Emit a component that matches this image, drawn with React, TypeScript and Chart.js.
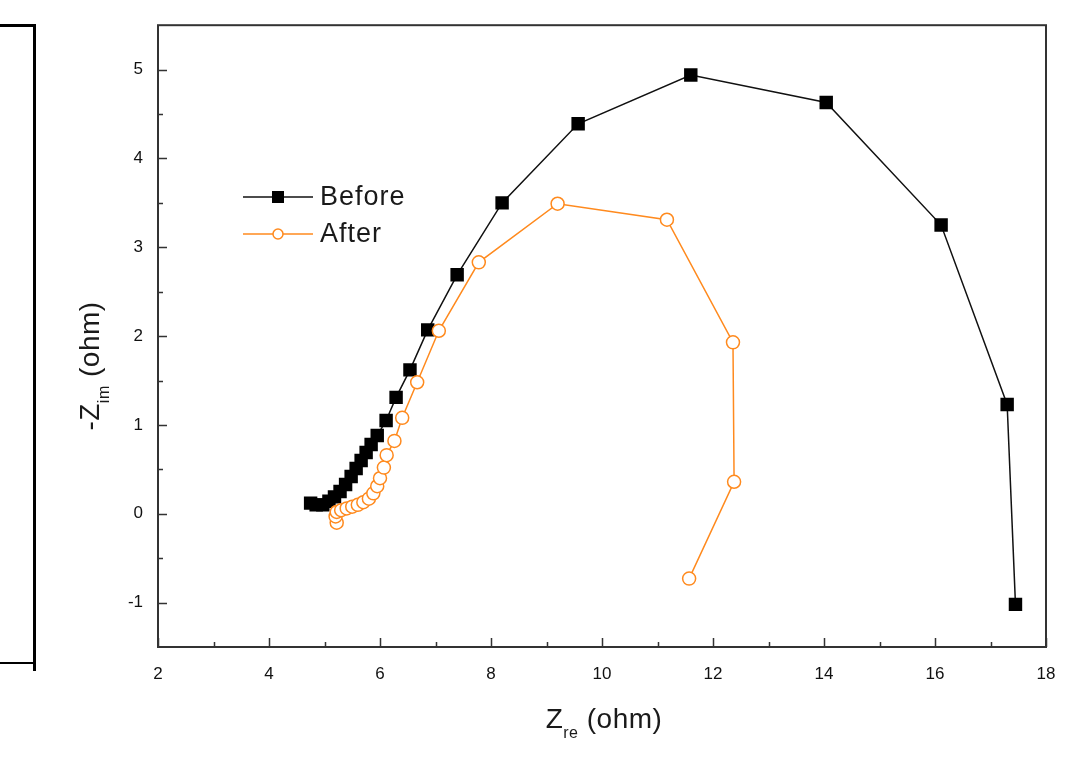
import React, { useEffect, useRef } from 'react';
import { Chart, registerables } from 'chart.js';

Chart.register(...registerables);

// Before (black squares), high frequency -> low frequency
const beforeX = [4.75, 4.85, 4.97, 5.08, 5.18, 5.28, 5.38, 5.48, 5.57, 5.66, 5.75, 5.84, 5.95, 6.11, 6.29, 6.54, 6.86, 7.39, 8.2, 9.57, 11.6, 14.04, 16.11, 17.3, 17.45];
const beforeY = [0.12, 0.1, 0.1, 0.14, 0.19, 0.25, 0.33, 0.42, 0.51, 0.6, 0.69, 0.78, 0.88, 1.05, 1.31, 1.62, 2.07, 2.69, 3.5, 4.39, 4.94, 4.63, 3.25, 1.23, -1.02];

// After (orange open circles)
const afterX = [5.22, 5.2, 5.22, 5.3, 5.4, 5.5, 5.6, 5.7, 5.8, 5.88, 5.95, 6.0, 6.07, 6.12, 6.26, 6.4, 6.67, 7.06, 7.78, 9.2, 11.17, 12.36, 12.38, 11.57];
const afterY = [-0.1, -0.03, 0.02, 0.04, 0.06, 0.08, 0.1, 0.13, 0.17, 0.23, 0.31, 0.4, 0.52, 0.66, 0.82, 1.08, 1.48, 2.06, 2.83, 3.49, 3.31, 1.93, 0.36, -0.73];

const xTicks = [2, 4, 6, 8, 10, 12, 14, 16, 18];
const xMinorTicks = [3, 5, 7, 9, 11, 13, 15, 17];
const yTicks = [-1, 0, 1, 2, 3, 4, 5];
const yMinorTicks = [-0.5, 0.5, 1.5, 2.5, 3.5, 4.5];

const seriesNames = ['Before', 'After'];
const ORANGE = '#FF8A1E';
const FONT = '"Liberation Sans", Arial, sans-serif';

export default function App() {
  const ref = useRef<HTMLCanvasElement>(null);

  useEffect(() => {
    if (!ref.current) return;

    const framePlugin = {
      id: 'framePlugin',
      afterDraw(chart: any) {
        const { ctx, chartArea } = chart;
        const { left, top, right, bottom } = chartArea;
        const xs = chart.scales.x;
        const ys = chart.scales.y;
        ctx.save();
        ctx.strokeStyle = '#333';
        ctx.lineWidth = 2;
        ctx.strokeRect(left, top, right - left, bottom - top);
        ctx.lineWidth = 1.5;
        ctx.beginPath();
        xTicks.forEach((v) => {
          const px = Math.round(xs.getPixelForValue(v)) + 0.5;
          ctx.moveTo(px, bottom);
          ctx.lineTo(px, bottom - 9);
        });
        xMinorTicks.forEach((v) => {
          const px = Math.round(xs.getPixelForValue(v)) + 0.5;
          ctx.moveTo(px, bottom);
          ctx.lineTo(px, bottom - 5);
        });
        yTicks.forEach((v) => {
          const py = Math.round(ys.getPixelForValue(v)) + 0.5;
          ctx.moveTo(left, py);
          ctx.lineTo(left + 9, py);
        });
        yMinorTicks.forEach((v) => {
          const py = Math.round(ys.getPixelForValue(v)) + 0.5;
          ctx.moveTo(left, py);
          ctx.lineTo(left + 5, py);
        });
        ctx.stroke();

        // legend
        const legendItems = [
          { y: 197, color: '#111', style: 'rect' },
          { y: 234, color: ORANGE, style: 'circle' },
        ];
        legendItems.forEach((it, i) => {
          ctx.strokeStyle = it.color;
          ctx.lineWidth = 1.5;
          ctx.beginPath();
          ctx.moveTo(243, it.y);
          ctx.lineTo(313, it.y);
          ctx.stroke();
          if (it.style === 'rect') {
            ctx.fillStyle = '#000';
            ctx.fillRect(278 - 6, it.y - 6, 12, 12);
          } else {
            ctx.fillStyle = '#fff';
            ctx.beginPath();
            ctx.arc(278, it.y, 5, 0, Math.PI * 2);
            ctx.fill();
            ctx.stroke();
          }
          ctx.fillStyle = '#1a1a1a';
          ctx.font = `27px ${FONT}`;
          (ctx as any).letterSpacing = '1px';
          ctx.textAlign = 'left';
          ctx.textBaseline = 'middle';
          ctx.fillText(seriesNames[i], 320, it.y + 1);
          (ctx as any).letterSpacing = '0px';
        });

        // axis titles with subscripts
        const drawTitle = (main: string, sub: string, rest: string) => {
          const big = `28px ${FONT}`;
          const small = `16px ${FONT}`;
          (ctx as any).letterSpacing = '0.5px';
          ctx.font = big;
          const w1 = ctx.measureText(main).width;
          const w3 = ctx.measureText(rest).width;
          ctx.font = small;
          const w2 = ctx.measureText(sub).width;
          const total = w1 + w2 + w3;
          let x = -total / 2;
          ctx.textAlign = 'left';
          ctx.textBaseline = 'alphabetic';
          ctx.fillStyle = '#1a1a1a';
          ctx.font = big;
          ctx.fillText(main, x, 0);
          x += w1;
          ctx.font = small;
          ctx.fillText(sub, x, 10);
          x += w2;
          ctx.font = big;
          ctx.fillText(rest, x, 0);
          (ctx as any).letterSpacing = '0px';
        };
        ctx.save();
        ctx.translate(604, 728);
        drawTitle('Z', 're', ' (ohm)');
        ctx.restore();
        ctx.save();
        ctx.translate(99, 366);
        ctx.rotate(-Math.PI / 2);
        drawTitle('-Z', 'im', ' (ohm)');
        ctx.restore();
        ctx.restore();
      },
    };

    const chart = new Chart(ref.current, {
      type: 'scatter',
      data: {
        datasets: [
          {
            label: seriesNames[0],
            data: beforeX.map((x, i) => ({ x, y: beforeY[i] })),
            showLine: true,
            borderColor: '#111',
            borderWidth: 1.5,
            pointStyle: 'rect',
            pointRadius: 9.5,
            pointBackgroundColor: '#000',
            pointBorderColor: '#000',
            pointBorderWidth: 0,
            order: 2,
          },
          {
            label: seriesNames[1],
            data: afterX.map((x, i) => ({ x, y: afterY[i] })),
            showLine: true,
            borderColor: ORANGE,
            borderWidth: 1.5,
            pointStyle: 'circle',
            pointRadius: 6.5,
            pointBackgroundColor: '#fff',
            pointBorderColor: ORANGE,
            pointBorderWidth: 1.5,
            order: 1,
          },
        ],
      },
      options: {
        animation: false,
        responsive: false,
        devicePixelRatio: 1,
        layout: { padding: { top: 25, right: 45, left: 0, bottom: 0 } },
        plugins: { legend: { display: false }, tooltip: { enabled: false } },
        scales: {
          x: {
            type: 'linear',
            min: 2,
            max: 18,
            afterBuildTicks: (s: any) => {
              s.ticks = xTicks.map((v) => ({ value: v }));
            },
            afterFit: (s: any) => {
              s.height = 121;
            },
            grid: { display: false, drawTicks: false },
            border: { display: false },
            ticks: { padding: 17, color: '#111', maxRotation: 0, font: { family: FONT, size: 17 } },
          },
          y: {
            type: 'linear',
            min: -1.5,
            max: 5.5,
            afterBuildTicks: (s: any) => {
              s.ticks = yTicks.map((v) => ({ value: v }));
            },
            afterFit: (s: any) => {
              s.width = 158;
            },
            grid: { display: false, drawTicks: false },
            border: { display: false },
            ticks: { padding: 15, color: '#111', font: { family: FONT, size: 17 } },
          },
        },
      },
      plugins: [framePlugin],
    } as any);

    return () => chart.destroy();
  }, []);

  return (
    <div style={{ position: 'fixed', left: 0, top: 0, width: 1091, height: 768, background: '#fff' }}>
      <canvas ref={ref} width={1091} height={768} style={{ display: 'block', position: 'absolute', left: 0, top: 0 }} />
      <div style={{ position: 'absolute', left: 0, top: 24, width: 33, height: 3, background: '#000' }} />
      <div style={{ position: 'absolute', left: 33, top: 24, width: 3, height: 647, background: '#000' }} />
      <div style={{ position: 'absolute', left: 0, top: 662, width: 33, height: 2, background: '#000' }} />
    </div>
  );
}
